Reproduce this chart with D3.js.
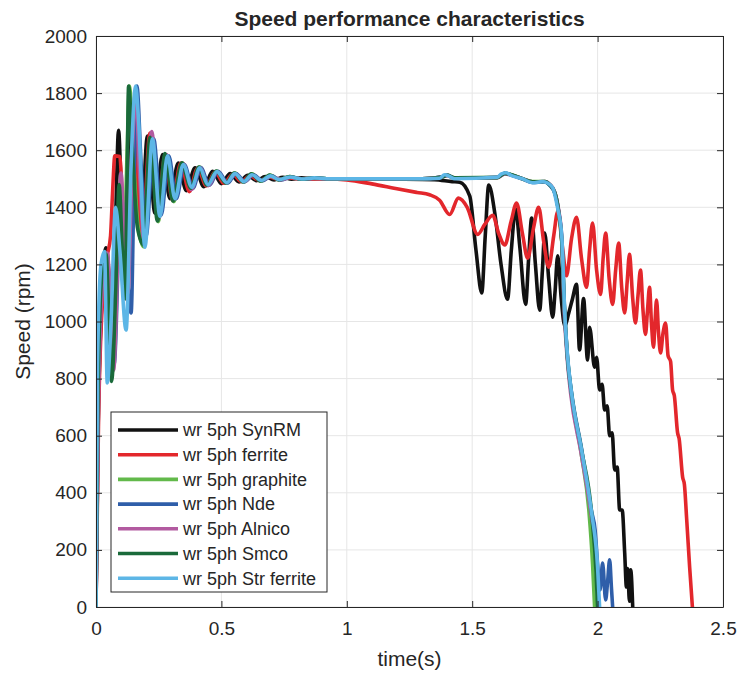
<!DOCTYPE html>
<html>
<head>
<meta charset="utf-8">
<script src="https://cdn.jsdelivr.net/npm/d3@7"></script>
<style>
    body { margin: 0; background: #fff; }
    text { font-family: "Liberation Sans", Arial, sans-serif; fill: #262626; }
</style>
</head>
<body>
<div id="chart"></div>
<script>
// axis ticks
var xTicks = [0, 0.5, 1, 1.5, 2, 2.5];
var xTickLabels = ["0", "0.5", "1", "1.5", "2", "2.5"];
var yTicks = [0, 200, 400, 600, 800, 1000, 1200, 1400, 1600, 1800, 2000];

var seriesNames = ["wr 5ph SynRM", "wr 5ph ferrite", "wr 5ph graphite", "wr 5ph Nde",
    "wr 5ph Alnico", "wr 5ph Smco", "wr 5ph Str ferrite"];

// wr 5ph SynRM
var tSynRM = [0, 0.008, 0.022, 0.04, 0.052, 0.062, 0.078, 0.09, 0.102, 0.118, 0.14, 0.158, 0.178, 0.205, 0.235, 0.265, 0.295, 0.328, 0.36, 0.395, 0.43, 0.465, 0.5, 0.535, 0.57, 0.605, 0.64, 0.675, 0.71, 0.745, 0.78, 0.82, 0.86, 1.0, 1.2, 1.35, 1.42, 1.45, 1.49, 1.515, 1.538, 1.552, 1.566, 1.59, 1.615, 1.641, 1.656, 1.673, 1.69, 1.713, 1.725, 1.737, 1.752, 1.769, 1.78, 1.789, 1.805, 1.821, 1.83, 1.841, 1.855, 1.869, 1.885, 1.9, 1.916, 1.928, 1.944, 1.96, 1.968, 1.988, 1.996, 2.008, 2.018, 2.028, 2.038, 2.048, 2.058, 2.068, 2.078, 2.088, 2.098, 2.108, 2.115, 2.12, 2.127, 2.132, 2.14];
var wSynRM = [0, 600, 1050, 1258, 1150, 880, 1350, 1670, 1400, 1080, 1760, 1560, 1290, 1650, 1380, 1585, 1430, 1555, 1458, 1538, 1472, 1526, 1483, 1518, 1489, 1512, 1493, 1508, 1496, 1505, 1498, 1503, 1500, 1500, 1499, 1497, 1490, 1488, 1440, 1250, 1100, 1300, 1478, 1380, 1200, 1078, 1250, 1395, 1260, 1060, 1220, 1362, 1200, 1040, 1180, 1310, 1150, 1015, 1100, 1230, 1080, 985, 1030, 1080, 1130, 900, 1080, 865, 980, 840, 875, 760, 780, 690, 705, 600, 610, 480, 490, 340, 340, 190, 70, 135, 20, 130, 0];

// wr 5ph ferrite
var tFerrite = [0, 0.01, 0.028, 0.045, 0.058, 0.066, 0.075, 0.095, 0.108, 0.122, 0.15, 0.185, 0.215, 0.245, 0.275, 0.305, 0.338, 0.372, 0.405, 0.44, 0.475, 0.51, 0.545, 0.58, 0.615, 0.65, 0.69, 0.73, 0.77, 0.82, 0.9, 1.0, 1.1, 1.2, 1.28, 1.33, 1.37, 1.41, 1.445, 1.48, 1.522, 1.55, 1.582, 1.605, 1.63, 1.655, 1.677, 1.7, 1.721, 1.745, 1.765, 1.785, 1.805, 1.825, 1.841, 1.86, 1.876, 1.896, 1.916, 1.936, 1.956, 1.968, 1.98, 1.996, 2.012, 2.022, 2.032, 2.046, 2.06, 2.072, 2.084, 2.096, 2.108, 2.118, 2.127, 2.14, 2.151, 2.161, 2.171, 2.181, 2.191, 2.199, 2.207, 2.215, 2.223, 2.229, 2.235, 2.243, 2.251, 2.261, 2.271, 2.281, 2.291, 2.299, 2.306, 2.319, 2.325, 2.339, 2.346, 2.355, 2.367, 2.378];
var wFerrite = [0, 650, 1100, 1230, 1300, 1450, 1580, 1578, 1350, 1150, 1700, 1280, 1660, 1370, 1580, 1425, 1555, 1455, 1537, 1475, 1524, 1484, 1516, 1490, 1511, 1494, 1506, 1497, 1503, 1499, 1500, 1496, 1482, 1465, 1452, 1444, 1425, 1375, 1432, 1400, 1305, 1340, 1372, 1310, 1268, 1350, 1415, 1310, 1222, 1330, 1400, 1280, 1190, 1300, 1385, 1260, 1160, 1290, 1365, 1220, 1120, 1250, 1345, 1180, 1095, 1220, 1310, 1150, 1060, 1180, 1275, 1120, 1030, 1140, 1235, 1080, 995, 1090, 1180, 1040, 955, 1040, 1120, 990, 910, 1000, 1075, 960, 890, 960, 995, 880, 860, 760, 740, 610, 590, 455, 430, 310, 140, 0];

// wr 5ph graphite
var tGraphite = [0, 0.006, 0.02, 0.038, 0.05, 0.065, 0.08, 0.098, 0.112, 0.125, 0.133, 0.15, 0.168, 0.19, 0.218, 0.248, 0.278, 0.31, 0.345, 0.382, 0.414, 0.446, 0.482, 0.522, 0.554, 0.59, 0.622, 0.66, 0.695, 0.73, 0.775, 0.82, 0.87, 0.92, 1.0, 1.3, 1.38, 1.4, 1.43, 1.6, 1.63, 1.65, 1.7, 1.74, 1.79, 1.81, 1.83, 1.845, 1.857, 1.868, 1.88, 1.896, 1.936, 1.966, 1.98, 1.988];
var wGraphite = [0, 700, 1120, 1240, 1050, 820, 1100, 1500, 1300, 1620, 1825, 1560, 1330, 1262, 1640, 1350, 1585, 1420, 1555, 1468, 1541, 1478, 1527, 1485, 1520, 1489, 1517, 1492, 1513, 1496, 1508, 1498, 1503, 1500, 1500, 1500, 1506, 1512, 1503, 1504, 1519, 1516, 1500, 1490, 1490, 1478, 1450, 1380, 1280, 1040, 870, 740, 530, 330, 150, 0];

// wr 5ph Nde
var tNde = [0, 0.008, 0.024, 0.042, 0.056, 0.072, 0.1, 0.118, 0.14, 0.152, 0.163, 0.18, 0.2, 0.23, 0.26, 0.29, 0.32, 0.352, 0.386, 0.418, 0.452, 0.487, 0.525, 0.558, 0.594, 0.628, 0.664, 0.7, 0.736, 0.78, 0.825, 0.875, 0.92, 1.0, 1.3, 1.38, 1.4, 1.43, 1.6, 1.63, 1.65, 1.7, 1.74, 1.79, 1.81, 1.83, 1.845, 1.857, 1.869, 1.88, 1.896, 1.936, 1.976, 1.99, 2.0, 2.01, 2.02, 2.032, 2.04, 2.048, 2.055, 2.06];
var wNde = [0, 780, 1150, 1232, 1050, 850, 1450, 1250, 1030, 1500, 1825, 1550, 1300, 1640, 1372, 1580, 1430, 1550, 1466, 1539, 1477, 1526, 1485, 1518, 1490, 1514, 1493, 1510, 1496, 1506, 1498, 1503, 1500, 1500, 1500, 1507, 1513, 1502, 1505, 1520, 1515, 1500, 1487, 1489, 1476, 1448, 1385, 1290, 1030, 875, 752, 555, 335, 270, 150, 60, 154, 25, 90, 165, 70, 0];

// wr 5ph Alnico
var tAlnico = [0, 0.01, 0.028, 0.045, 0.058, 0.07, 0.1, 0.112, 0.127, 0.145, 0.157, 0.175, 0.19, 0.222, 0.252, 0.282, 0.313, 0.347, 0.38, 0.414, 0.448, 0.483, 0.52, 0.555, 0.59, 0.625, 0.66, 0.698, 0.735, 0.775, 0.82, 0.87, 0.92, 1.0, 1.3, 1.38, 1.4, 1.43, 1.6, 1.63, 1.65, 1.7, 1.74, 1.79, 1.81, 1.83, 1.845, 1.857, 1.866, 1.878, 1.893, 1.933, 1.973, 1.997, 2.005];
var wAlnico = [0, 720, 1160, 1240, 1060, 830, 1520, 1300, 1100, 1600, 1800, 1500, 1290, 1665, 1362, 1585, 1428, 1553, 1462, 1539, 1476, 1525, 1486, 1517, 1490, 1513, 1494, 1509, 1497, 1505, 1499, 1502, 1500, 1500, 1500, 1506, 1511, 1502, 1504, 1517, 1514, 1500, 1489, 1490, 1480, 1452, 1390, 1295, 1050, 880, 745, 545, 330, 150, 0];

// wr 5ph Smco
var tSmco = [0, 0.008, 0.024, 0.04, 0.052, 0.062, 0.08, 0.092, 0.105, 0.115, 0.124, 0.13, 0.145, 0.165, 0.19, 0.215, 0.245, 0.275, 0.307, 0.342, 0.378, 0.41, 0.443, 0.479, 0.518, 0.551, 0.587, 0.619, 0.656, 0.692, 0.728, 0.772, 0.818, 0.868, 0.92, 1.0, 1.3, 1.38, 1.4, 1.43, 1.6, 1.63, 1.65, 1.7, 1.74, 1.79, 1.81, 1.83, 1.845, 1.857, 1.868, 1.88, 1.896, 1.936, 1.976, 1.994, 2.0];
var wSmco = [0, 760, 1170, 1236, 1000, 790, 1150, 1480, 1250, 1080, 1500, 1825, 1600, 1330, 1268, 1645, 1352, 1588, 1422, 1556, 1467, 1541, 1478, 1527, 1485, 1520, 1489, 1517, 1492, 1513, 1496, 1508, 1498, 1503, 1500, 1500, 1500, 1506, 1512, 1503, 1504, 1519, 1516, 1500, 1489, 1490, 1478, 1450, 1383, 1285, 1040, 872, 748, 550, 330, 120, 0];

// wr 5ph Str ferrite
var tStrFerrite = [0, 0.006, 0.02, 0.034, 0.045, 0.06, 0.078, 0.095, 0.12, 0.14, 0.158, 0.17, 0.195, 0.225, 0.255, 0.285, 0.315, 0.348, 0.382, 0.414, 0.446, 0.482, 0.522, 0.554, 0.59, 0.622, 0.66, 0.695, 0.73, 0.775, 0.82, 0.87, 0.92, 1.0, 1.3, 1.37, 1.39, 1.41, 1.43, 1.6, 1.615, 1.635, 1.655, 1.7, 1.74, 1.78, 1.8, 1.82, 1.84, 1.857, 1.869, 1.88, 1.896, 1.936, 1.976, 2.0, 2.008];
var wStrFerrite = [0, 850, 1200, 1245, 785, 1000, 1400, 1250, 970, 1550, 1825, 1700, 1260, 1640, 1368, 1580, 1430, 1550, 1470, 1538, 1479, 1525, 1486, 1518, 1490, 1514, 1494, 1510, 1497, 1506, 1499, 1503, 1500, 1500, 1500, 1502, 1514, 1508, 1500, 1505, 1516, 1521, 1512, 1500, 1486, 1490, 1485, 1470, 1400, 1300, 1030, 880, 750, 550, 330, 140, 0];

var seriesColors = ["#111111", "#e3272c", "#62b94a", "#2f5ea9", "#b25aa0", "#1a6a3a", "#5db6e6"];

var times = [tSynRM, tFerrite, tGraphite, tNde, tAlnico, tSmco, tStrFerrite];
var speeds = [wSynRM, wFerrite, wGraphite, wNde, wAlnico, wSmco, wStrFerrite];

var svgWidth = 739;
var svgHeight = 673;
var margin = { top: 36, right: 16, bottom: 66, left: 96 };
var chartWidth = svgWidth - margin.left - margin.right;
var chartHeight = svgHeight - margin.top - margin.bottom;

var svg = d3.select("#chart").append("svg")
    .attr("width", svgWidth)
    .attr("height", svgHeight);

var chartGroup = svg.append("g")
    .attr("transform", `translate(${margin.left}, ${margin.top})`);

var xScale = d3.scaleLinear().domain([0, 2.5]).range([0, chartWidth]);
var yScale = d3.scaleLinear().domain([0, 2000]).range([chartHeight, 0]);

// grid lines
chartGroup.append("g")
    .selectAll("line.vgrid")
    .data(xTicks)
    .enter()
    .append("line")
    .attr("x1", d => xScale(d)).attr("x2", d => xScale(d))
    .attr("y1", 0).attr("y2", chartHeight)
    .attr("stroke", "#e6e6e6").attr("stroke-width", 1);

chartGroup.append("g")
    .selectAll("line.hgrid")
    .data(yTicks)
    .enter()
    .append("line")
    .attr("x1", 0).attr("x2", chartWidth)
    .attr("y1", d => yScale(d)).attr("y2", d => yScale(d))
    .attr("stroke", "#e6e6e6").attr("stroke-width", 1);

// clip
svg.append("defs").append("clipPath").attr("id", "plotClip")
    .append("rect").attr("x", 0).attr("y", -2).attr("width", chartWidth).attr("height", chartHeight + 2);

var line = d3.line()
    .x(d => xScale(d[0]))
    .y(d => yScale(d[1]))
    .curve(d3.curveMonotoneX);

var linesGroup = chartGroup.append("g").attr("clip-path", "url(#plotClip)");
times.forEach(function(tArr, i) {
    var pts = tArr.map((t, j) => [t, speeds[i][j]]);
    linesGroup.append("path")
        .datum(pts)
        .attr("d", line)
        .attr("fill", "none")
        .attr("stroke", seriesColors[i])
        .attr("stroke-width", 3.6)
        .attr("stroke-linejoin", "round");
});

// axes
var bottomAxis = d3.axisBottom(xScale).tickValues(xTicks)
    .tickFormat((d, i) => xTickLabels[i]).tickSizeInner(-6).tickSizeOuter(0).tickPadding(15);
var leftAxis = d3.axisLeft(yScale).tickValues(yTicks)
    .tickFormat(d3.format("d")).tickSizeInner(-6).tickSizeOuter(0).tickPadding(9);
var topAxis = d3.axisTop(xScale).tickValues(xTicks).tickFormat("").tickSizeInner(-6).tickSizeOuter(0);
var rightAxis = d3.axisRight(yScale).tickValues(yTicks).tickFormat("").tickSizeInner(-6).tickSizeOuter(0);

var xAxis = chartGroup.append("g")
    .attr("transform", `translate(0, ${chartHeight})`)
    .call(bottomAxis);
var yAxis = chartGroup.append("g").call(leftAxis);
chartGroup.append("g").call(topAxis);
chartGroup.append("g").attr("transform", `translate(${chartWidth}, 0)`).call(rightAxis);

chartGroup.selectAll(".domain").attr("stroke", "#262626");
chartGroup.selectAll(".tick line").attr("stroke", "#262626");
chartGroup.selectAll(".tick text")
    .style("font-size", "19px")
    .style("font-family", "'Liberation Sans', Arial, sans-serif")
    .attr("fill", "#262626");

// title and labels
svg.append("text")
    .attr("x", margin.left + chartWidth / 2)
    .attr("y", 26)
    .attr("text-anchor", "middle")
    .style("font-size", "21px")
    .style("font-weight", "bold")
    .text("Speed performance characteristics");

svg.append("text")
    .attr("x", margin.left + chartWidth / 2)
    .attr("y", 666)
    .attr("text-anchor", "middle")
    .style("font-size", "21px")
    .text("time(s)");

svg.append("text")
    .attr("transform", `translate(30, ${margin.top + chartHeight / 2}) rotate(-90)`)
    .attr("text-anchor", "middle")
    .style("font-size", "21px")
    .text("Speed (rpm)");

// legend
var legendGroup = chartGroup.append("g")
    .attr("transform", `translate(15, ${412 - margin.top})`);

legendGroup.append("rect")
    .attr("x", 0).attr("y", 0)
    .attr("width", 216).attr("height", 180)
    .attr("fill", "#fff")
    .attr("stroke", "#262626")
    .attr("stroke-width", 1);

seriesNames.forEach(function(name, i) {
    var yPos = 18 + i * 24.7;
    legendGroup.append("line")
        .attr("x1", 7).attr("x2", 67)
        .attr("y1", yPos).attr("y2", yPos)
        .attr("stroke", seriesColors[i])
        .attr("stroke-width", 3.6);
    legendGroup.append("text")
        .attr("x", 72)
        .attr("y", yPos)
        .attr("dy", "0.35em")
        .style("font-size", "18px")
        .text(name);
});
</script>
</body>
</html>
